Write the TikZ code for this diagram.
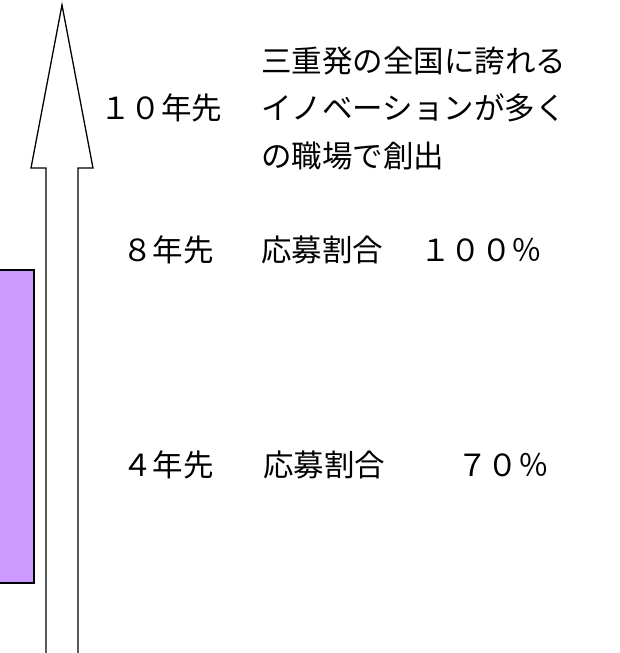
\documentclass[tikz,border=0pt]{standalone}
\usepackage{fontspec}
\newfontfamily\cjk{Noto Sans CJK JP}
\definecolor{boxpurple}{HTML}{CC99FF}
\begin{document}
\begin{tikzpicture}[x=1pt,y=-1pt,
  lbl/.style={anchor=west,inner sep=0pt,font=\cjk\fontsize{30.5}{47.5}\selectfont,align=left},
  outline/.style={draw=black,line width=1.3pt,line join=miter}]
\useasboundingbox (0,0) rectangle (620,653);
\clip (0,0) rectangle (620,653);
% purple box (cropped at left edge)
\path[outline,fill=boxpurple] (-20,270) rectangle (34,583);
% big upward arrow
\draw[outline,fill=white] (46,660) -- (46,168) -- (31,168) -- (62,5) -- (93,168) -- (78,168) -- (78,660);
% labels
\node[lbl] (y10) at (100,108) {１０年先};
\node[lbl] (goal10) at (261,108) {三重発の全国に誇れる\\イノベーションが多く\\の職場で創出};
\node[lbl] (y8) at (122,250) {８年先};
\node[lbl] (r8) at (261,250) {応募割合};
\node[lbl] (p8) at (420,250) {１００％};
\node[lbl] (y4) at (122,465) {４年先};
\node[lbl] (r4) at (263,465) {応募割合};
\node[lbl] (p4) at (457,465) {７０％};
\end{tikzpicture}
\end{document}
